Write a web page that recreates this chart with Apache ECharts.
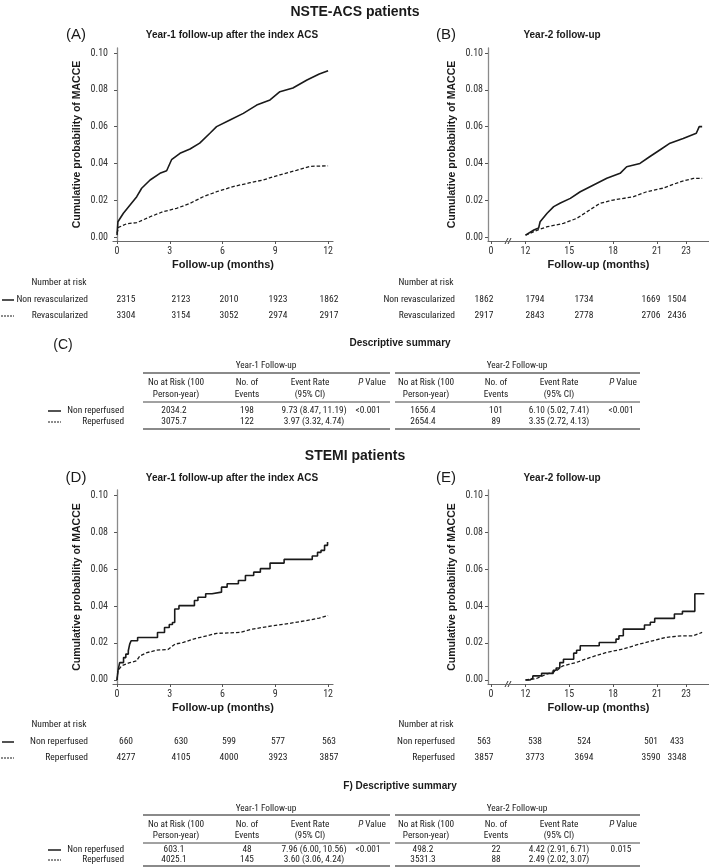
<!DOCTYPE html>
<html><head><meta charset="utf-8">
<script src="https://cdn.jsdelivr.net/npm/echarts@6/dist/echarts.min.js"></script>
<style>html,body{margin:0;padding:0;background:#fff}#c{width:709px;height:868px}</style>
</head><body><div id="c"></div>
<script>
// ---------------- DATA ----------------
const xTicksYear1 = [0, 3, 6, 9, 12];
const xTicksYear2 = [9.64, 12, 15, 18, 21, 23];
const xTickLabelsYear2 = ['0', '12', '15', '18', '21', '23'];
const yTicks = [0, 0.02, 0.04, 0.06, 0.08, 0.10];

// NSTE-ACS, year 1 (months, cumulative probability)
const nsteY1_nonRevasc = [[0,0.001],[0.05,0.0083],[0.36,0.0129],[0.74,0.0174],[1.12,0.0219],[1.4,0.0265],[1.88,0.031],[2.44,0.0346],[2.82,0.036],[3.1,0.042],[3.58,0.0455],[4.15,0.0478],[4.7,0.051],[5.28,0.0564],[5.66,0.06],[6.42,0.0636],[7.18,0.0672],[7.94,0.0717],[8.7,0.0745],[9.26,0.079],[10.0,0.081],[10.8,0.0853],[11.5,0.0886],[12.0,0.0904]];
const nsteY1_revasc = [[0,0.002],[0.08,0.0052],[0.55,0.0072],[1.12,0.0078],[1.88,0.011],[2.63,0.0138],[3.39,0.0156],[4.15,0.0183],[4.9,0.0219],[5.66,0.0246],[6.6,0.0274],[7.56,0.0295],[8.3,0.031],[9.26,0.0338],[10.2,0.0362],[10.97,0.0384],[12.0,0.0387]];
// NSTE-ACS, year 2
const nsteY2_nonRevasc = [[12,0.001],[12.57,0.0038],[12.9,0.0049],[13.0,0.0083],[13.48,0.0129],[13.93,0.0165],[14.39,0.0185],[15.07,0.021],[15.75,0.0246],[16.66,0.0283],[17.57,0.0319],[18.48,0.0346],[18.93,0.0382],[19.84,0.04],[20.5,0.0436],[21.2,0.0473],[21.9,0.051],[22.8,0.0536],[23.7,0.0564],[23.9,0.06],[24.1,0.06]];
const nsteY2_revasc = [[12,0.001],[12.9,0.004],[13.5,0.0056],[14.6,0.0074],[15.5,0.0101],[16.4,0.0147],[17.1,0.0183],[18.0,0.0201],[19.4,0.0219],[20.3,0.0246],[21.4,0.0265],[22.6,0.03],[23.5,0.0319],[24.1,0.0319]];
// STEMI, year 1
const stemiY1_nonReperf = [[0,0],[0.05,0.0049],[0.15,0.0094],[0.37,0.0121],[0.5,0.014],[0.64,0.0158],[0.72,0.0194],[0.8,0.0212],[1.17,0.023],[2.3,0.0257],[2.7,0.0284],[2.97,0.03],[3.15,0.0311],[3.28,0.0384],[3.52,0.0402],[4.4,0.043],[4.6,0.0447],[5.04,0.0466],[5.4,0.0475],[5.94,0.0502],[6.26,0.052],[6.9,0.0538],[7.3,0.0565],[7.77,0.0583],[8.15,0.0602],[8.7,0.0632],[9.5,0.0652],[11.1,0.067],[11.4,0.069],[11.6,0.0701],[11.8,0.0728],[11.97,0.0746],[12.0,0.0746]];
const stemiY1_reperf = [[0,0],[0.05,0.005],[0.25,0.0076],[0.72,0.0094],[1.1,0.0103],[1.3,0.013],[1.7,0.0148],[2.25,0.0161],[2.9,0.0165],[3.3,0.0194],[3.77,0.0203],[4.34,0.0221],[5.1,0.0239],[5.66,0.0252],[6.98,0.0257],[7.7,0.0275],[8.85,0.0293],[9.8,0.0306],[10.7,0.032],[11.5,0.0335],[12.0,0.0348]];
// STEMI, year 2
const stemiY2_nonReperf = [[12,0],[12.3,0.001],[12.5,0.0022],[13.1,0.0036],[13.9,0.0053],[14.1,0.0065],[14.35,0.0094],[14.6,0.0112],[15.3,0.0145],[15.5,0.0161],[15.75,0.0185],[17.05,0.0203],[18.2,0.0221],[18.4,0.0239],[18.7,0.0275],[20.15,0.0297],[20.55,0.0312],[20.85,0.0333],[22.2,0.0357],[22.75,0.0371],[23.6,0.0466],[24.25,0.0466]];
const stemiY2_reperf = [[12,0],[12.75,0.0008],[13.4,0.003],[14.1,0.0049],[14.55,0.0076],[15.45,0.0094],[16.4,0.0121],[17.5,0.0148],[18.65,0.0167],[19.8,0.0194],[20.7,0.0212],[21.6,0.023],[22.7,0.0239],[23.5,0.0239],[24.1,0.0257]];

// Number at risk
const riskA_non = [2315, 2123, 2010, 1923, 1862];
const riskA_rev = [3304, 3154, 3052, 2974, 2917];
const riskB_non = [1862, 1794, 1734, 1669, 1504];
const riskB_rev = [2917, 2843, 2778, 2706, 2436];
const riskD_non = [660, 630, 599, 577, 563];
const riskD_rev = [4277, 4105, 4000, 3923, 3857];
const riskE_non = [563, 538, 524, 501, 433];
const riskE_rev = [3857, 3773, 3694, 3590, 3348];

// Descriptive summary tables
const tableHeaders = [['No at Risk (100', 'Person-year)'], ['No. of', 'Events'], ['Event Rate', '(95% CI)'], ['{i|P} Value', '']];
const tableC_non = ['2034.2', '198', '9.73 (8.47, 11.19)', '<0.001', '1656.4', '101', '6.10 (5.02, 7.41)', '<0.001'];
const tableC_rep = ['3075.7', '122', '3.97 (3.32, 4.74)', '', '2654.4', '89', '3.35 (2.72, 4.13)', ''];
const tableF_non = ['603.1', '48', '7.96 (6.00, 10.56)', '<0.001', '498.2', '22', '4.42 (2.91, 6.71)', '0.015'];
const tableF_rep = ['4025.1', '145', '3.60 (3.06, 4.24)', '', '3531.3', '88', '2.49 (2.02, 3.07)', ''];

// ---------------- LAYOUT / STYLE ----------------
const NARROW = '"Liberation Sans Narrow", "Arial Narrow", "Roboto Condensed", "Liberation Sans", Arial, sans-serif';
const SANS = '"Liberation Sans", Arial, Helvetica, sans-serif';
const INK = '#1a1a1a';

const chart = echarts.init(document.getElementById('c'), null, {renderer: 'canvas'});

function yAxisCfg(gi) {
  return {
    type: 'value', gridIndex: gi, min: -0.00217, max: 0.10272,
    name: 'Cumulative probability of MACCE', nameLocation: 'middle', nameGap: 30, nameRotate: 90,
    nameTextStyle: {fontFamily: SANS, fontWeight: 'bold', fontSize: 10.5, color: INK},
    axisLine: {show: true, lineStyle: {color: '#8a8a8a', width: 1.3}},
    axisTick: {show: true, length: 3, customValues: yTicks, lineStyle: {color: '#555'}},
    axisLabel: {customValues: yTicks, formatter: v => v.toFixed(2), fontFamily: NARROW, fontSize: 10, color: '#333', margin: 5},
    splitLine: {show: false}
  };
}
function xAxisCfg(gi, year2) {
  return {
    type: 'value', gridIndex: gi,
    min: year2 ? 9.43 : -0.23, max: year2 ? 24.57 : 12.28,
    name: 'Follow-up (months)', nameLocation: 'middle', nameGap: 18,
    nameTextStyle: {fontFamily: SANS, fontWeight: 'bold', fontSize: 11, color: INK},
    axisLine: {show: true, onZero: false, lineStyle: {color: '#6a6a6a', width: 1.2}},
    axisTick: {show: true, length: 3, customValues: year2 ? xTicksYear2 : xTicksYear1, lineStyle: {color: '#555'}},
    axisLabel: {
      customValues: year2 ? xTicksYear2 : xTicksYear1,
      formatter: v => year2 ? xTickLabelsYear2[xTicksYear2.indexOf(v)] : String(v),
      fontFamily: NARROW, fontSize: 10, color: '#333', margin: 5
    },
    splitLine: {show: false}
  };
}
function curve(data, gi, dashed, step) {
  return {
    type: 'line', xAxisIndex: gi, yAxisIndex: gi, data: data, step: step || false,
    showSymbol: false, symbol: 'none', silent: true, animation: false,
    lineStyle: dashed ? {color: INK, width: 1.3, type: [3.5, 2]} : {color: INK, width: 1.6}
  };
}

// graphic helpers
const G = [];
function txt(x, y, s, o) {
  o = o || {};
  G.push({type: 'text', x: x, y: y, silent: true, style: {
    text: s, fill: o.fill || INK, fontFamily: o.ff || NARROW, fontSize: o.fs || 10,
    fontWeight: o.fw || 'normal', align: o.align || 'center', verticalAlign: 'middle',
    rich: o.rich
  }});
}
function ln(x1, y1, x2, y2, w, c, dash) {
  G.push({type: 'line', silent: true, shape: {x1, y1, x2, y2},
    style: {stroke: c || INK, lineWidth: w || 1, lineDash: dash || null}});
}

// Titles
txt(355, 12, 'NSTE-ACS patients', {ff: SANS, fw: 'bold', fs: 14});
txt(355, 456, 'STEMI patients', {ff: SANS, fw: 'bold', fs: 14});
const panelTitleY = [35, 478];
[0, 1].forEach(r => {
  const y = panelTitleY[r];
  txt(76, y, r ? '(D)' : '(A)', {ff: SANS, fs: 15});
  txt(232, y, 'Year-1 follow-up after the index ACS', {ff: SANS, fw: 'bold', fs: 10});
  txt(446, y, r ? '(E)' : '(B)', {ff: SANS, fs: 15});
  txt(562, y, 'Year-2 follow-up', {ff: SANS, fw: 'bold', fs: 10});
});

// axis break marks
[241, 684].forEach(y => {
  ln(505, y + 3, 508, y - 3, 1, '#333');
  ln(508, y + 3, 511, y - 3, 1, '#333');
});

// Number at risk tables
const riskX1 = [126, 181, 229, 278, 329];
const riskX2 = [484, 535, 584, 651, 677];
function riskBlock(y0, labNon, labRev, nonL, revL, nonR, revR) {
  const fs = 9.5;
  txt(59, y0, 'Number at risk', {fs});
  txt(426, y0, 'Number at risk', {fs});
  const y1 = y0 + 17, y2 = y0 + 33;
  ln(2, y1, 14, y1, 1.5, INK);
  ln(1, y2, 14, y2, 1.2, INK, [2, 1]);
  txt(88, y1, labNon, {align: 'right', fs});
  txt(88, y2, labRev, {align: 'right', fs});
  txt(455, y1, labNon, {align: 'right', fs});
  txt(455, y2, labRev, {align: 'right', fs});
  nonL.forEach((v, i) => txt(riskX1[i], y1, String(v), {fs}));
  revL.forEach((v, i) => txt(riskX1[i], y2, String(v), {fs}));
  nonR.forEach((v, i) => txt(riskX2[i], y1, String(v), {fs}));
  revR.forEach((v, i) => txt(riskX2[i], y2, String(v), {fs}));
}
riskBlock(283, 'Non revascularized', 'Revascularized', riskA_non, riskA_rev, riskB_non, riskB_rev);
riskBlock(725, 'Non reperfused', 'Reperfused', riskD_non, riskD_rev, riskE_non, riskE_rev);

// Descriptive tables
const colX = [174, 247, 314, 368, 423, 496, 559, 621];
const hdrX = [176, 247, 310, 372, 426, 496, 559, 623];
function descTable(L, title, label, nonRow, repRow) {
  const fs = 9.3;
  txt(400, L.title, title, {ff: SANS, fw: 'bold', fs: 10});
  if (label) txt(63, L.title + 2, label, {ff: SANS, fs: 14});
  txt(266, L.group, 'Year-1 Follow-up', {fs});
  txt(517, L.group, 'Year-2 Follow-up', {fs});
  ln(143, L.gline, 390, L.gline, 2, '#8a8a8a');
  ln(395, L.gline, 640, L.gline, 2, '#8a8a8a');
  for (let g = 0; g < 2; g++) {
    tableHeaders.forEach((h, i) => {
      const x = hdrX[g * 4 + i];
      txt(x, L.h1, h[0], {fs, rich: {i: {fontStyle: 'italic', fontFamily: NARROW, fontSize: fs, fill: INK}}});
      if (h[1]) txt(x, L.h2, h[1], {fs});
    });
  }
  ln(143, L.hline, 390, L.hline, 1, '#444');
  ln(395, L.hline, 640, L.hline, 1, '#444');
  ln(48, L.r1, 61, L.r1, 1.5, INK);
  ln(48, L.r2, 61, L.r2, 1.2, INK, [2, 1]);
  txt(124, L.r1, 'Non reperfused', {align: 'right', fs});
  txt(124, L.r2, 'Reperfused', {align: 'right', fs});
  nonRow.forEach((v, i) => { if (v) txt(colX[i], L.r1, v, {fs}); });
  repRow.forEach((v, i) => { if (v) txt(colX[i], L.r2, v, {fs}); });
  ln(143, L.bline, 390, L.bline, 2, '#8a8a8a');
  ln(395, L.bline, 640, L.bline, 2, '#8a8a8a');
}
descTable({title: 343, group: 366, gline: 373, h1: 383, h2: 395, hline: 402, r1: 411, r2: 422, bline: 429}, 'Descriptive summary', '(C)', tableC_non, tableC_rep);
descTable({title: 786, group: 809, gline: 815, h1: 825, h2: 836, hline: 843, r1: 850, r2: 860, bline: 866}, 'F) Descriptive summary', null, tableF_non, tableF_rep);

chart.setOption({
  animation: false,
  backgroundColor: '#fff',
  grid: [
    {left: 113, top: 48, width: 220, height: 193},
    {left: 488, top: 48, width: 221, height: 193},
    {left: 113, top: 490, width: 220, height: 194},
    {left: 488, top: 490, width: 221, height: 194}
  ],
  xAxis: [xAxisCfg(0, false), xAxisCfg(1, true), xAxisCfg(2, false), xAxisCfg(3, true)],
  yAxis: [yAxisCfg(0), yAxisCfg(1), yAxisCfg(2), yAxisCfg(3)],
  series: [
    curve(nsteY1_nonRevasc, 0, false), curve(nsteY1_revasc, 0, true),
    curve(nsteY2_nonRevasc, 1, false), curve(nsteY2_revasc, 1, true),
    curve(stemiY1_nonReperf, 2, false, 'end'), curve(stemiY1_reperf, 2, true),
    curve(stemiY2_nonReperf, 3, false, 'end'), curve(stemiY2_reperf, 3, true)
  ],
  graphic: G
});
</script>
</body></html>
